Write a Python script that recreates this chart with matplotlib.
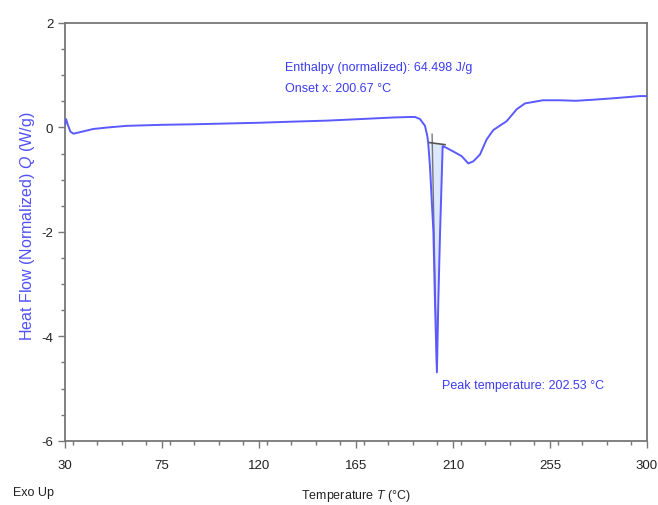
import matplotlib
matplotlib.use("Agg")
import matplotlib.pyplot as plt
from matplotlib.ticker import MultipleLocator
import numpy as np

plt.rcParams['font.family'] = ['Liberation Sans', 'DejaVu Sans']
plt.rcParams['mathtext.fontset'] = 'custom'
plt.rcParams['mathtext.it'] = 'Liberation Sans:italic'
plt.rcParams['mathtext.rm'] = 'Liberation Sans'
plt.rcParams['axes.unicode_minus'] = False

# DSC curve (temperature °C, heat flow W/g)
temp = [30.0, 30.5, 31.3, 32.5, 33.9, 37.0, 43.1, 50.0, 58.6, 75.0, 89.4, 105.0, 120.5,
        135.0, 151.4, 167.0, 182.2, 190.0, 192.4, 194.7, 197.0, 198.1, 198.5, 199.3,
        200.9, 201.6, 202.53, 203.2, 204.0, 205.2, 205.5, 210.1, 214.0, 217.1, 219.4,
        222.5, 225.6, 228.7, 234.9, 239.6, 243.4, 251.7, 259.6, 267.0, 274.9, 285.0, 296.7, 300.0]
heat = [0.05, 0.16, 0.05, -0.08, -0.12, -0.09, -0.03, 0.0, 0.03, 0.05, 0.06, 0.075, 0.09,
        0.11, 0.13, 0.16, 0.19, 0.20, 0.20, 0.16, 0.03, -0.17, -0.30, -0.74,
        -2.0, -3.3, -4.69, -3.3, -2.0, -0.36, -0.36, -0.46, -0.55, -0.69, -0.65,
        -0.52, -0.23, -0.05, 0.12, 0.35, 0.46, 0.52, 0.52, 0.51, 0.53, 0.56, 0.60, 0.60]

# baseline / onset construction
base_t = [199.0, 206.3]
base_y = [-0.29, -0.33]
tang_t = [200.3, 202.45]
tang_y = [-0.13, -4.6]

x_ticks = [30, 75, 120, 165, 210, 255, 300]
y_ticks = [2, 0, -2, -4, -6]

blue = '#5a5aff'
textblue = '#3c3cf0'

fig = plt.figure(figsize=(6.58, 5.06), dpi=100)
ax = fig.add_axes([0.0988, 0.127, 0.8845, 0.8256])

t = np.array(temp)
h = np.array(heat)
mask = (t >= base_t[0]) & (t <= base_t[1])
bl = np.interp(t[mask], base_t, base_y)
ax.fill_between(t[mask], h[mask], bl, color='#dde8ff', lw=0, zorder=1)
ax.plot(temp, heat, color=blue, lw=1.4, zorder=3)
ax.plot(base_t, base_y, color='#555555', lw=1.2, zorder=4)
ax.plot(tang_t, tang_y, color='#777777', lw=1.0, zorder=2)

ax.set_xlim(30, 300)
ax.set_ylim(-6, 2)
ax.set_xticks(x_ticks)
ax.set_yticks(y_ticks)
ax.xaxis.set_minor_locator(MultipleLocator(11.25))
ax.yaxis.set_minor_locator(MultipleLocator(0.5))
ax.tick_params(which='both', direction='out', colors='#777777', labelcolor='#222222',
               labelsize=9.5, top=False, right=False)
ax.tick_params(which='major', length=5, width=1)
ax.tick_params(which='minor', length=3, width=1)
ax.tick_params(axis='x', pad=8)
for s in ax.spines.values():
    s.set_color('#777777')
    s.set_linewidth(1.3)

ax.set_ylabel(r'Heat Flow (Normalized) $\mathit{Q}$ (W/g)', color='#5050f5', fontsize=11.5)
ax.yaxis.set_label_coords(-0.048, 0.515)

fig.text(356 / 658, 1 - 496 / 506, r'Temperature $\mathit{T}$ (°C)', color='#222222',
         fontsize=9, ha='center', va='center')
fig.text(13 / 658, 1 - 493 / 506, 'Exo Up', fontsize=9, color='#222222', va='center')
fig.text(285 / 658, 1 - 71 / 506, 'Enthalpy (normalized): 64.498 J/g', fontsize=9, color=textblue)
fig.text(285 / 658, 1 - 92 / 506, 'Onset x: 200.67 °C', fontsize=9, color=textblue)
fig.text(442 / 658, 1 - 389 / 506, 'Peak temperature: 202.53 °C', fontsize=9, color=textblue)

fig.savefig('out.png', dpi=100)
